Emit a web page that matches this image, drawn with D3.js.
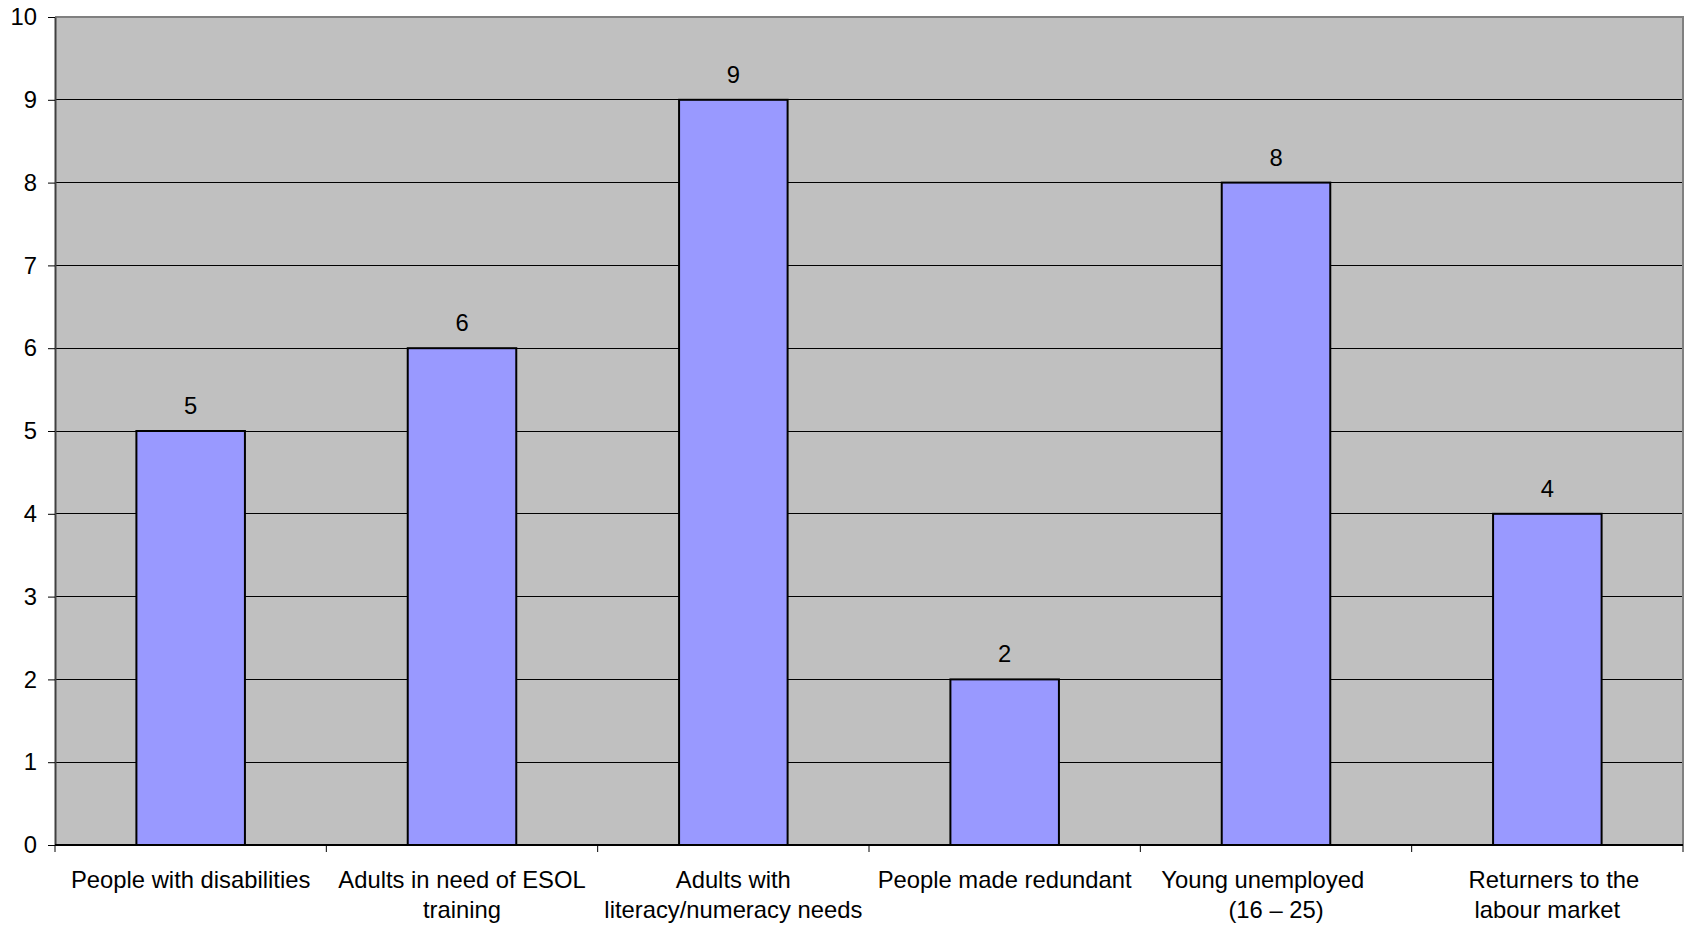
<!DOCTYPE html>
<html><head><meta charset="utf-8">
<script src="https://cdn.jsdelivr.net/npm/d3@7"></script>
<style>body{margin:0;background:#fff;} svg{display:block;}</style>
</head><body>
<script>
const categories = ["People with disabilities","Adults in need of ESOL training","Adults with literacy/numeracy needs","People made redundant","Young unemployed (16 – 25)","Returners to the labour market"];
const categoryLines = [["People with disabilities"],["Adults in need of ESOL","training"],["Adults with","literacy/numeracy needs"],["People made redundant"],["Young unemployed\u00a0\u00a0\u00a0\u00a0","(16 – 25)"],["\u00a0\u00a0Returners to the","labour market"]];
const values = [5,6,9,2,8,4];
const yTicks = [0,1,2,3,4,5,6,7,8,9,10];

const W=1686,H=925;
const m={left:55,top:17,right:3,bottom:80};
const svg=d3.select("body").append("svg").attr("width",W).attr("height",H);
const x=d3.scaleBand().domain(categories).range([m.left,W-m.right]);
const y=d3.scaleLinear().domain([0,10]).range([H-m.bottom,m.top]);
const font="'Liberation Sans',Arial,sans-serif";
const fs=23.8;

svg.append("rect").attr("x",m.left).attr("y",m.top).attr("width",W-m.right-m.left).attr("height",y(0)-m.top).attr("fill","#c0c0c0");

// gridlines
svg.append("g").selectAll("line").data(yTicks.filter(d=>d>0&&d<10)).join("line")
 .attr("x1",m.left).attr("x2",W-m.right).attr("y1",d=>y(d)).attr("y2",d=>y(d))
 .attr("stroke","#000").attr("stroke-width",1).attr("shape-rendering","crispEdges");

// plot border top/right
svg.append("path").attr("d",`M${m.left},${m.top}H${W-m.right}V${y(0)}`).attr("fill","none").attr("stroke","#808080").attr("stroke-width",2);

// bars
const bw=x.bandwidth()*0.4;
svg.append("g").selectAll("rect").data(values).join("rect")
 .attr("x",(d,i)=>x(categories[i])+x.bandwidth()/2-bw/2).attr("width",bw)
 .attr("y",d=>y(d)).attr("height",d=>y(0)-y(d))
 .attr("fill","#9999ff").attr("stroke","#000").attr("stroke-width",2);

svg.append("g").selectAll("text").data(values).join("text")
 .attr("x",(d,i)=>x(categories[i])+x.bandwidth()/2).attr("y",d=>y(d)-17)
 .attr("text-anchor","middle").attr("font-family",font).attr("font-size",fs).attr("fill","#000").text(d=>d);

// y axis
const ya=svg.append("g").attr("transform",`translate(${m.left},0)`)
 .call(d3.axisLeft(y).tickValues(yTicks).tickSize(7).tickPadding(11).tickSizeOuter(0));
ya.select(".domain").attr("stroke","#404040").attr("stroke-width",2);
ya.selectAll(".tick line").attr("stroke","#000");
ya.selectAll("text").attr("font-family",font).attr("font-size",fs).attr("fill","#000");

// x axis
const xa=svg.append("g").attr("transform",`translate(0,${y(0)})`);
xa.append("line").attr("x1",m.left).attr("x2",W-m.right).attr("y1",0).attr("y2",0).attr("stroke","#000").attr("stroke-width",2);
const bounds=categories.map(c=>x(c)).concat([W-m.right]);
xa.selectAll("line.t").data(bounds).join("line").attr("class","t")
 .attr("x1",d=>d).attr("x2",d=>d).attr("y1",0).attr("y2",7).attr("stroke","#000").attr("stroke-width",1);
categories.forEach((c,i)=>{
  const t=xa.append("text").attr("text-anchor","middle").attr("font-family",font).attr("font-size",fs).attr("fill","#000")
   .attr("x",x(c)+x.bandwidth()/2).style("white-space","pre");
  categoryLines[i].forEach((ln,j)=>t.append("tspan").attr("x",x(c)+x.bandwidth()/2).attr("y",43+j*29.5).text(ln));
});
</script>
</body></html>
